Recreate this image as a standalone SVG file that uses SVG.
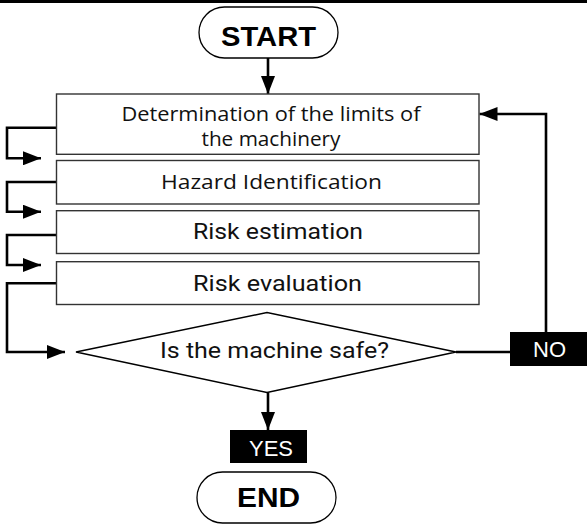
<svg xmlns="http://www.w3.org/2000/svg" width="587" height="529" viewBox="0 0 587 529">
<style>
.box{fill:#fff;stroke:#333;stroke-width:1.4}
.pill{fill:#fff;stroke:#000;stroke-width:1.3}
.dia{fill:#fff;stroke:#000;stroke-width:1.5}
.con{fill:none;stroke:#000;stroke-width:2.6}
.t1{font-family:"Open Sans","Noto Sans",sans-serif;font-size:20px;fill:#111;text-anchor:middle}
.t2{font-family:Roboto,"Liberation Sans",sans-serif;font-size:21.5px;fill:#111;text-anchor:middle}
.tb{font-family:"Liberation Sans",Arial,sans-serif;font-weight:bold;font-size:28px;fill:#000;text-anchor:middle}
.tl{font-family:"Liberation Sans",Arial,sans-serif;font-size:22px;fill:#fff;text-anchor:middle}
.lab{fill:#000}
</style>
<defs>
<marker id="ah" markerUnits="userSpaceOnUse" markerWidth="18" markerHeight="14" refX="18" refY="7" orient="auto">
<path d="M0,0 L18,7 L0,14 Z" fill="#000"/>
</marker>
</defs>
<rect x="0" y="0" width="587" height="3" fill="#000"/>
<g id="connectors">
<line class="con" x1="268" y1="58" x2="268" y2="94" marker-end="url(#ah)"/>
<polyline class="con" points="56,127.7 7,127.7 7,158.3 41,158.3" marker-end="url(#ah)"/>
<polyline class="con" points="56,182 7,182 7,211.7 41,211.7" marker-end="url(#ah)"/>
<polyline class="con" points="56,235 7,235 7,265 41,265" marker-end="url(#ah)"/>
<polyline class="con" points="56,283.3 7,283.3 7,352 65,352" marker-end="url(#ah)"/>
<line class="con" x1="268" y1="392.5" x2="268" y2="430" marker-end="url(#ah)"/>
<line class="con" x1="456" y1="352" x2="510" y2="352"/>
<polyline class="con" points="546,332 546,114 479.5,114" marker-end="url(#ah)"/>
</g>
<g id="start">
<rect class="pill" x="199" y="7" width="139" height="51" rx="25.5"/>
<text class="tb" x="268.5" y="46" textLength="95" lengthAdjust="spacingAndGlyphs">START</text>
</g>
<g id="limits">
<rect class="box" x="56.5" y="94" width="422.5" height="60.3"/>
<text class="t1" x="271" y="120.5" textLength="299" lengthAdjust="spacingAndGlyphs">Determination of the limits of</text>
<text class="t1" x="271" y="145.5" textLength="139" lengthAdjust="spacingAndGlyphs">the machinery</text>
</g>
<g id="hazard">
<rect class="box" x="56.5" y="160.5" width="422.5" height="43.5"/>
<text class="t1" x="271.5" y="189.3" textLength="221" lengthAdjust="spacingAndGlyphs">Hazard Identification</text>
</g>
<g id="estimation">
<rect class="box" x="56.5" y="210.7" width="422.5" height="42.8"/>
<text class="t2" x="278" y="239.3" textLength="170" lengthAdjust="spacingAndGlyphs">Risk estimation</text>
</g>
<g id="evaluation">
<rect class="box" x="56.5" y="261.7" width="422.5" height="42.8"/>
<text class="t2" x="277.5" y="291" textLength="169" lengthAdjust="spacingAndGlyphs">Risk evaluation</text>
</g>
<g id="decision">
<polygon class="dia" points="76,352 267,312.5 456,352 267,392.5"/>
<text class="t2" x="274.5" y="358" font-size="23" textLength="229" lengthAdjust="spacingAndGlyphs">Is the machine safe?</text>
</g>
<g id="no">
<rect class="lab" x="510" y="332" width="77" height="34"/>
<text class="tl" x="549.5" y="357">NO</text>
</g>
<g id="yes">
<rect class="lab" x="230" y="430" width="77" height="33"/>
<text class="tl" x="271" y="456">YES</text>
</g>
<g id="end">
<rect class="pill" x="197" y="472" width="139" height="51" rx="25.5"/>
<text class="tb" x="268.5" y="507" textLength="63" lengthAdjust="spacingAndGlyphs">END</text>
</g>
</svg>
